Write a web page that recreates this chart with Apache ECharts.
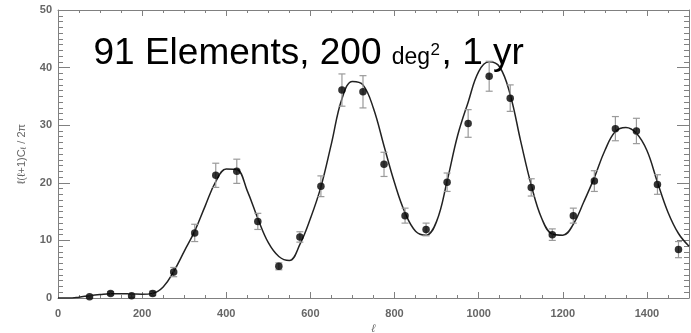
<!DOCTYPE html>
<html>
<head>
<meta charset="utf-8">
<script src="https://cdn.jsdelivr.net/npm/echarts@6/dist/echarts.min.js"></script>
<style>html,body{margin:0;padding:0;background:#fff}#c{width:691px;height:333px}</style>
</head>
<body>
<div id="c"></div>
<script>
// Data points (binned band powers) with 1-sigma errors
const pointEll = [75,125,175,225,275,325,375,425,475,525,575,625,675,725,775,825,875,925,975,1025,1075,1125,1175,1225,1275,1325,1375,1425,1475];
const pointVal = [0.2,0.8,0.4,0.8,4.5,11.3,21.3,22.0,13.3,5.5,10.6,19.4,36.1,35.8,23.2,14.3,11.9,20.1,30.3,38.5,34.7,19.2,11.0,14.3,20.3,29.4,29.0,19.7,8.4];
const pointErr = [0.2,0.3,0.3,0.4,0.8,1.5,2.1,2.1,1.4,0.6,0.9,1.8,2.8,2.8,2.1,1.3,1.1,1.6,2.4,2.6,2.3,1.5,1.0,1.3,1.8,2.1,2.2,1.7,1.4];
// Theory curve
const curveEll = [0,25,50,75,100,125,150,175,200,225,250,275,300,325,350,375,400,425,450,475,500,525,550,575,600,625,650,675,700,725,750,775,800,825,850,875,900,925,950,975,1000,1025,1050,1075,1100,1125,1150,1175,1200,1225,1250,1275,1300,1325,1350,1375,1400,1425,1450,1475,1500];
const curveVal = [0.0,0.0,0.15,0.4,0.6,0.75,0.75,0.7,0.65,0.8,1.9,4.6,8.1,11.6,16.0,20.2,22.4,22.3,18.6,13.8,9.6,7.2,6.5,9.3,13.8,19.3,26.8,34.6,37.6,37.0,32.9,26.4,20.0,14.8,11.6,10.9,13.3,20.3,28.2,34.0,39.3,41.0,40.1,35.3,27.2,19.6,13.8,11.1,10.9,12.8,16.7,20.9,25.6,28.9,29.6,28.6,25.6,20.1,14.9,11.2,9.0];
const titleParts = ['91 Elements, 200 ', 'deg', '2', ', 1 yr'];

const axisGray = '#808080';
const labelStyle = {color:'#666', fontSize:11, fontWeight:'bold', fontFamily:'Liberation Sans', formatter: v => String(v)};

function xAx(pos, major, labels) {
  return {
    type:'value', min:0, max:1500, interval: major ? 200 : 50, position: pos,
    axisLine:{show: major, onZero:false, lineStyle:{color:axisGray, width:1}},
    axisTick:{show:true, inside:true, length: major ? 6 : 3, lineStyle:{color:axisGray, width:1}},
    axisLabel: labels ? Object.assign({show:true, margin:10, showMaxLabel:false}, labelStyle) : {show:false},
    splitLine:{show:false},
    name: labels ? 'ℓ' : '', nameLocation:'middle', nameGap:24,
    nameTextStyle:{color:'#666', fontSize:11, fontStyle:'italic', fontFamily:'Liberation Sans'}
  };
}
function yAx(pos, labels) {
  return {
    type:'value', min:0, max:50, interval:10, position: pos,
    axisLine:{show:true, onZero:false, lineStyle:{color:axisGray, width:1}},
    axisTick:{show:true, inside:true, length:12, lineStyle:{color:axisGray, width:1}},
    minorTick:{show:true, splitNumber:10, length:5, lineStyle:{color:axisGray, width:1}},
    axisLabel: labels ? Object.assign({show:true, margin:6}, labelStyle) : {show:false},
    splitLine:{show:false},
    name: labels ? '{a|ℓ(ℓ+1)C}{s|ℓ}{a| / 2π}' : '', nameLocation:'middle', nameGap:30,
    nameTextStyle:{color:'#666', fontFamily:'Liberation Sans',
      rich:{a:{fontSize:11, color:'#666', fontFamily:'Liberation Sans'}, s:{fontSize:8, color:'#666', fontFamily:'Liberation Sans', padding:[4,0,0,0]}}}
  };
}

// measure title fragments to place them side by side
const mctx = document.createElement('canvas').getContext('2d');
function textW(t, size) { mctx.font = size + 'px "Liberation Sans"'; return mctx.measureText(t).width; }
const tx0 = 93.5;
const tx1 = tx0 + textW(titleParts[0], 37);
const tx2 = tx1 + textW(titleParts[1], 23) + 0.5;
const tx3 = tx2 + textW(titleParts[2], 17) + 1.5;

const chart = echarts.init(document.getElementById('c'), null, {renderer:'canvas'});
chart.setOption({
  animation:false,
  backgroundColor:'#fff',
  grid:{left:58, right:2, top:10, bottom:35, containLabel:false, outerBoundsMode:'none'},
  xAxis:[xAx('bottom', true, true), xAx('bottom', false, false), xAx('top', true, false), xAx('top', false, false)],
  yAxis:[yAx('left', true), yAx('right', false)],
  series:[
    {
      type:'line', xAxisIndex:0, yAxisIndex:0, smooth:0.4, symbol:'none',
      lineStyle:{color:'#222', width:1.5},
      data: curveEll.map((e,i)=>[e, curveVal[i]]), z:2
    },
    {
      type:'custom', xAxisIndex:0, yAxisIndex:0, z:3,
      data: pointEll.map((e,i)=>[e, pointVal[i]-pointErr[i], pointVal[i]+pointErr[i]]),
      renderItem:function(params, api){
        const lo = api.coord([api.value(0), api.value(1)]);
        const hi = api.coord([api.value(0), api.value(2)]);
        const w = 3.5;
        const st = {stroke:'#9a9a9a', lineWidth:1.2};
        return {type:'group', children:[
          {type:'line', shape:{x1:lo[0], y1:lo[1], x2:hi[0], y2:hi[1]}, style:st},
          {type:'line', shape:{x1:lo[0]-w, y1:lo[1], x2:lo[0]+w, y2:lo[1]}, style:st},
          {type:'line', shape:{x1:hi[0]-w, y1:hi[1], x2:hi[0]+w, y2:hi[1]}, style:st}
        ]};
      }
    },
    {
      type:'scatter', xAxisIndex:0, yAxisIndex:0, z:4, symbol:'circle', symbolSize:7.5,
      itemStyle:{color:'#000'},
      data: pointEll.map((e,i)=>[e, pointVal[i]])
    }
  ],
  graphic:[
    {type:'text', x:tx0, y:53.5, z:10, style:{text:titleParts[0], font:'37px "Liberation Sans"', fill:'#000', verticalAlign:'middle', align:'left'}},
    {type:'text', x:tx1, y:57.7, z:10, style:{text:titleParts[1], font:'23px "Liberation Sans"', fill:'#000', verticalAlign:'middle', align:'left'}},
    {type:'text', x:tx2, y:50.5, z:10, style:{text:titleParts[2], font:'17px "Liberation Sans"', fill:'#000', verticalAlign:'middle', align:'left'}},
    {type:'text', x:tx3, y:53.5, z:10, style:{text:titleParts[3], font:'37px "Liberation Sans"', fill:'#000', verticalAlign:'middle', align:'left'}}
  ]
});
</script>
</body>
</html>
